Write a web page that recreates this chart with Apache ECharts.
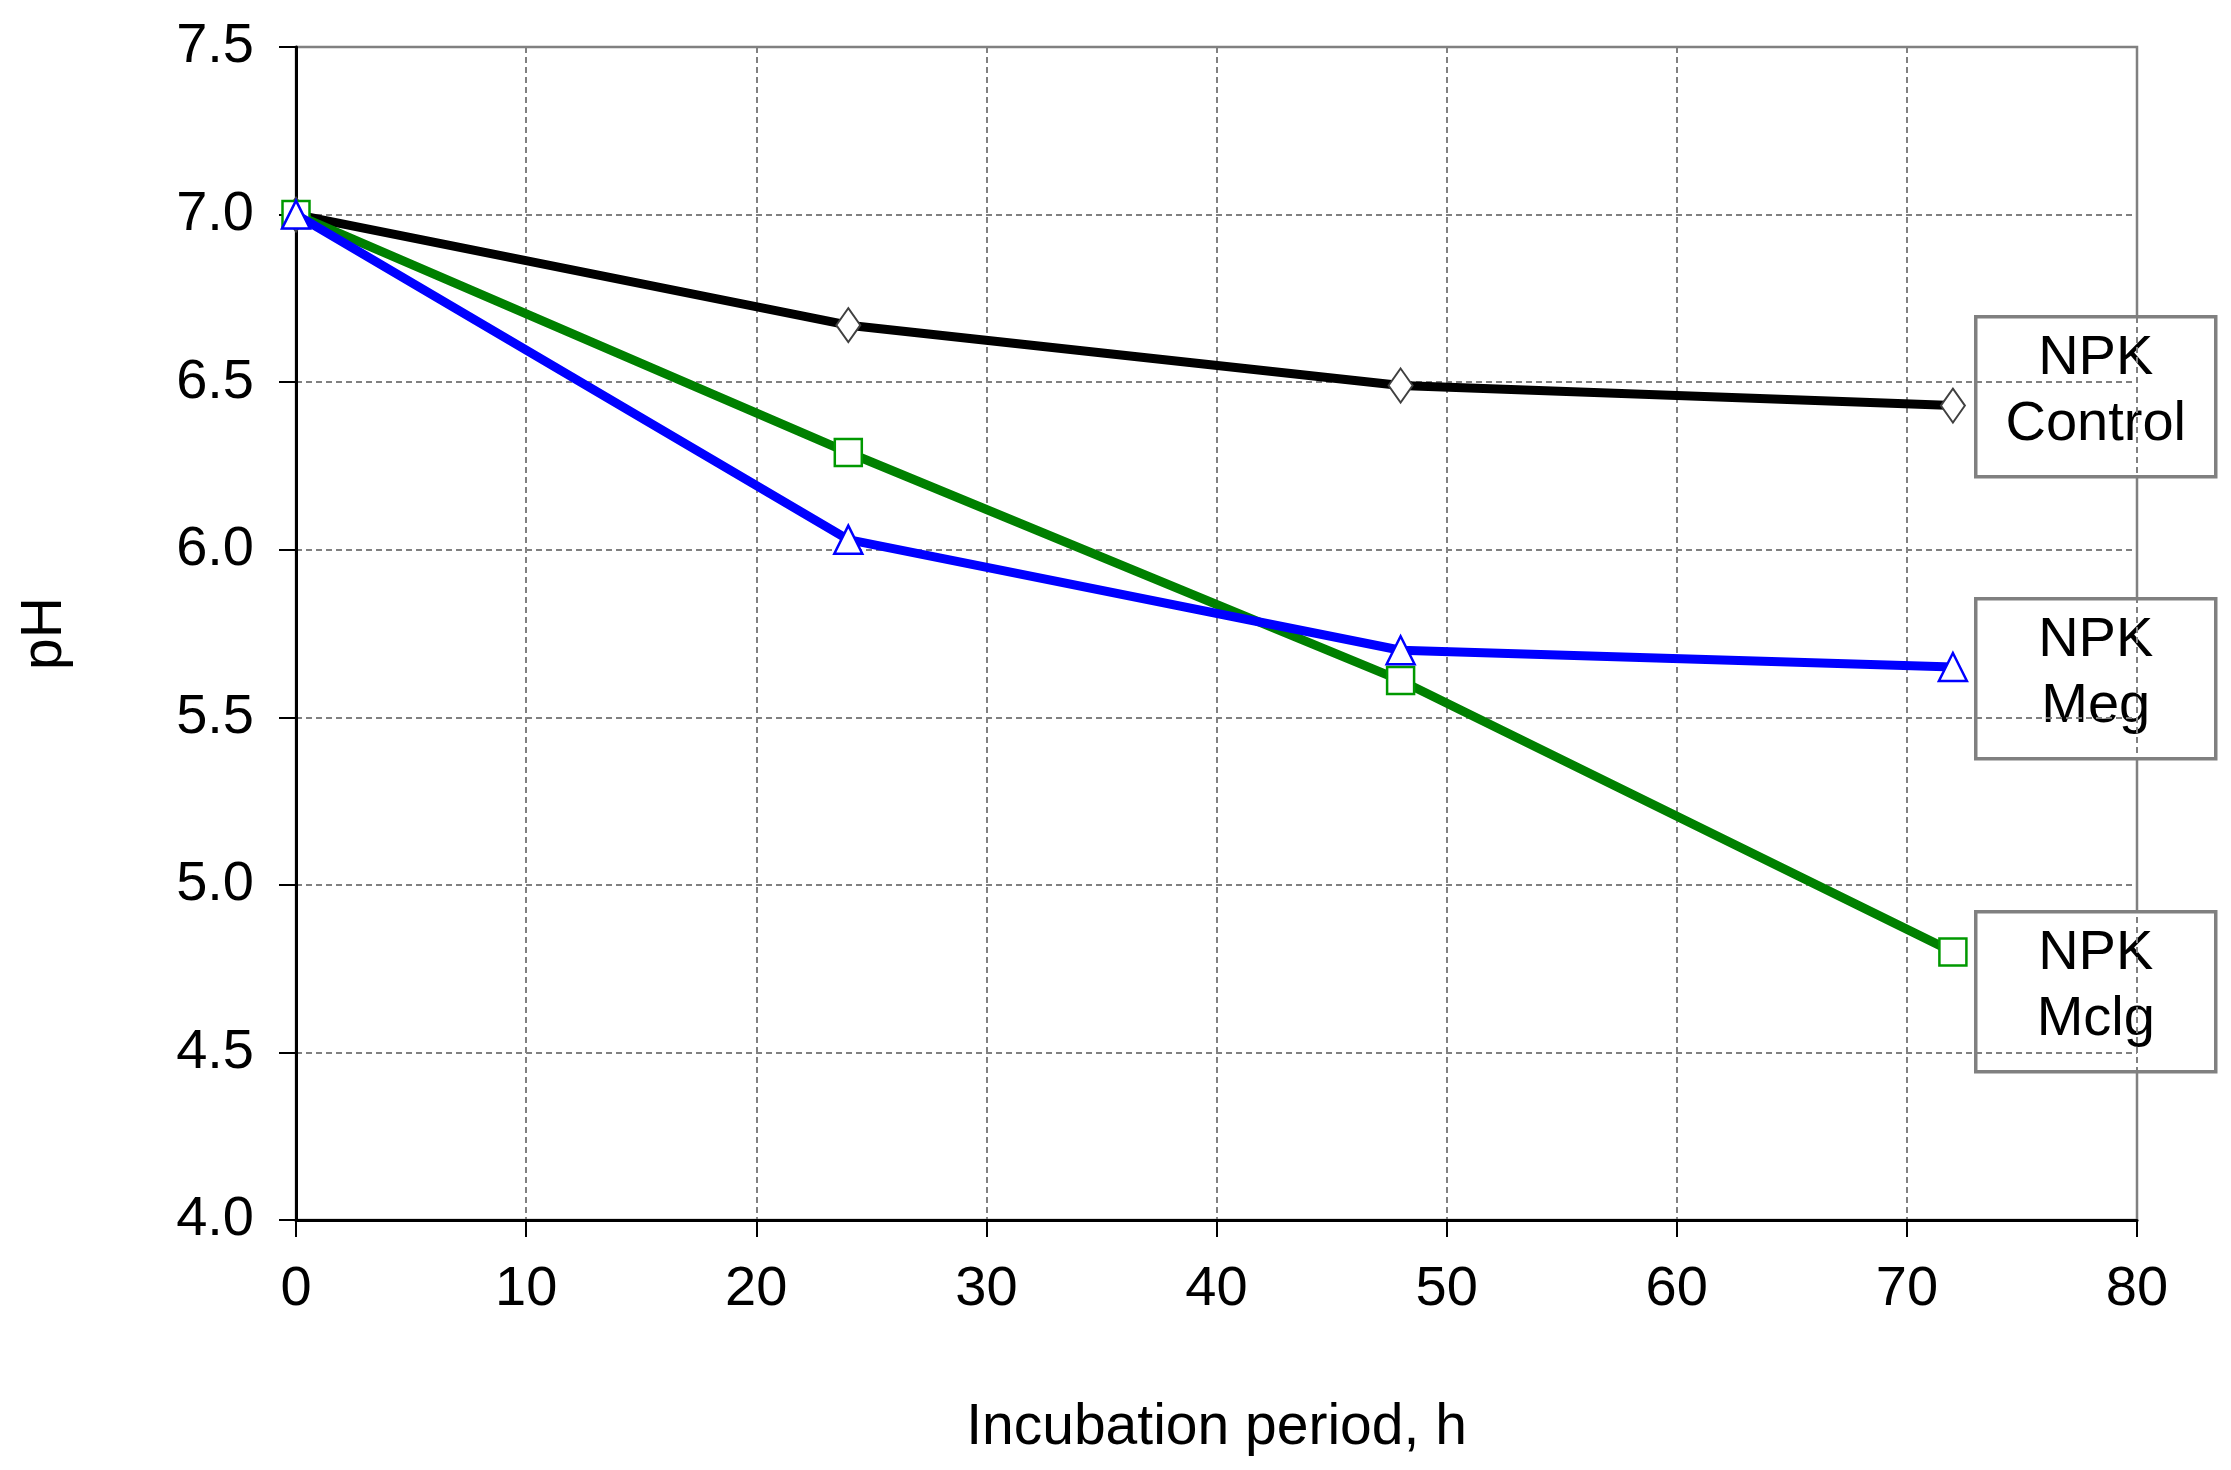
<!DOCTYPE html>
<html>
<head>
<meta charset="utf-8">
<script src="https://cdn.jsdelivr.net/npm/echarts@6/dist/echarts.min.js"></script>
<style>
html,body{margin:0;padding:0;background:#fff;}
#chart{width:2231px;height:1470px;}
</style>
</head>
<body>
<div id="chart"></div>
<script>
const hours = [0, 24, 48, 72];
const seriesNames = ['NPK Control', 'NPK Mclg', 'NPK Meg'];
const controlPH = [7.0, 6.67, 6.49, 6.43];
const mclgPH = [7.0, 6.29, 5.61, 4.80];
const megPH = [7.0, 6.03, 5.70, 5.65];
const legendLabels = [['NPK', 'Control'], ['NPK', 'Meg'], ['NPK', 'Mclg']];

const FONT = '"Liberation Sans", Arial, sans-serif';
const chart = echarts.init(document.getElementById('chart'));

function pairs(vals){ return hours.map((h,i)=>[h, vals[i]]); }

const gridL = 296, gridR = 94, gridT = 47, gridB = 250;

const boxW = 240, boxH = 160, boxX = 1974;
const boxYs = [315, 597, 910];
const graphics = [];
legendLabels.forEach((lines, i) => {
  graphics.push({
    type: 'group', left: boxX, top: boxYs[i], z: 100,
    children: [
      { type: 'rect', shape: { x: 0, y: 0, width: boxW, height: boxH },
        style: { fill: '#fff', stroke: '#808080', lineWidth: 3.5 } },
      { type: 'text', x: boxW/2, y: boxH/2 - 5,
        style: { text: lines.join('\n'), font: '56px ' + FONT, fill: '#000',
                 align: 'center', verticalAlign: 'middle', lineHeight: 66 } }
    ]
  });
});

chart.setOption({
  backgroundColor: '#fff',
  animation: false,
  grid: { left: gridL, right: gridR, top: gridT, bottom: gridB, show: true,
          borderColor: '#808080', borderWidth: 2.5, backgroundColor: 'transparent' },
  xAxis: {
    type: 'value', min: 0, max: 80, interval: 10,
    name: 'Incubation period, h', nameLocation: 'middle', nameGap: 180,
    nameTextStyle: { fontSize: 57, fontFamily: FONT, color: '#000' },
    axisLine: { show: true, lineStyle: { color: '#000', width: 3 } },
    axisTick: { show: true, length: 17, lineStyle: { color: '#000', width: 2 } },
    axisLabel: { fontSize: 56, fontFamily: FONT, color: '#000', margin: 42 },
    splitLine: { show: true, lineStyle: { color: '#808080', width: 2, type: [6, 4] } }
  },
  yAxis: {
    type: 'value', min: 4.0, max: 7.5, interval: 0.5,
    name: 'pH', nameLocation: 'middle', nameGap: 222, nameRotate: 90,
    nameTextStyle: { fontSize: 57, fontFamily: FONT, color: '#000' },
    axisLine: { show: true, lineStyle: { color: '#000', width: 3 } },
    axisTick: { show: true, length: 17, lineStyle: { color: '#000', width: 2 } },
    axisLabel: { fontSize: 56, fontFamily: FONT, color: '#000', margin: 42,
                 formatter: v => v.toFixed(1) },
    splitLine: { show: true, lineStyle: { color: '#808080', width: 2, type: [6, 4] } }
  },
  graphic: graphics,
  series: [
    { name: seriesNames[0], type: 'line', data: pairs(controlPH), z: 3,
      lineStyle: { color: '#000', width: 9 },
      symbol: 'diamond', symbolSize: [24, 34],
      itemStyle: { color: '#fff', borderColor: '#404040', borderWidth: 2 } },
    { name: seriesNames[1], type: 'line', data: pairs(mclgPH), z: 4,
      lineStyle: { color: '#008000', width: 9 },
      symbol: 'rect', symbolSize: 27,
      itemStyle: { color: '#fff', borderColor: '#009900', borderWidth: 2.5 } },
    { name: seriesNames[2], type: 'line', data: pairs(megPH), z: 5,
      lineStyle: { color: '#0000ff', width: 9 },
      symbol: 'triangle', symbolSize: [28, 28],
      itemStyle: { color: '#fff', borderColor: '#0000ff', borderWidth: 2.5 } }
  ]
});
</script>
</body>
</html>
